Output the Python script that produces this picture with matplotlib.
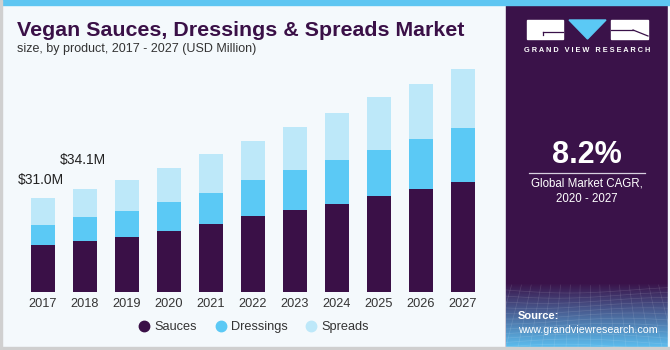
import matplotlib.pyplot as plt
import numpy as np
from matplotlib.patches import Rectangle, Polygon
from matplotlib.lines import Line2D

# data (USD Million)
years = ['2017', '2018', '2019', '2020', '2021', '2022', '2023', '2024', '2025', '2026', '2027']
sauces = [15.5, 16.7, 18.0, 20.2, 22.4, 25.1, 27.1, 29.0, 31.6, 33.9, 36.4]
dressings = [6.6, 7.9, 8.8, 9.6, 10.3, 11.9, 13.2, 14.6, 15.4, 16.7, 17.7]
spreads = [8.9, 9.5, 10.0, 11.2, 12.7, 13.0, 14.2, 15.5, 17.3, 18.1, 19.4]
labels = {0: '$31.0M', 1: '$34.1M'}
label_gap = {0: 6.0, 1: 9.5}

C_SAUCE = '#3a1047'
C_DRESS = '#5bc9f5'
C_SPREAD = '#bde8f9'
BG = '#f4f9fc'
PANEL = '#3a1249'

plt.rcParams['font.family'] = ['Liberation Sans', 'DejaVu Sans']

W, H = 670, 350
fig = plt.figure(figsize=(6.7, 3.5), dpi=100)
fig.patch.set_facecolor(BG)

# background / decoration axes in pixel coordinates
bg = fig.add_axes([0, 0, 1, 1], zorder=0)
bg.set_xlim(0, W)
bg.set_ylim(H, 0)
bg.axis('off')

bg.add_patch(Rectangle((0, 0), W, H, color=BG, zorder=0))
bg.add_patch(Rectangle((506, 0), 162, 347, color=PANEL, zorder=1))

# gradient at the bottom of the side panel
grad = np.linspace(0, 1, 100)[:, None]
top = np.array([0x3a, 0x12, 0x49]) / 255
bot = np.array([0x5c, 0xbd, 0xee]) / 255
img = (top[None, None, :] * (1 - grad[..., None]) + bot[None, None, :] * grad[..., None])
img = np.repeat(img, 2, axis=1)
bg.imshow(img, extent=(506, 668, 347, 283), aspect='auto', zorder=2,
          interpolation='bilinear')

# faint perspective grid
for k in range(12):
    yy = 290 + k * 5.2
    xs = np.linspace(506, 668, 40)
    bg.plot(xs, yy + 3 * np.sin((xs - 506) / 40 + k * 0.3), color='white',
            lw=0.5, alpha=0.12, zorder=3)
for k in range(20):
    x0 = 500 + k * 9
    bg.plot([x0 + (k - 10) * 0.8, x0 + (k - 10) * 3], [285, 347], color='white',
            lw=0.5, alpha=0.12, zorder=3)
bg.add_patch(Rectangle((668, 0), 2, 350, color=BG, zorder=4))

bg.add_patch(Rectangle((0, 0), W, 5, color='#5ec6f2', zorder=5))
bg.add_patch(Rectangle((0, 347), W, 3, color='#cfcfcf', zorder=5))
bg.add_patch(Rectangle((0, 0), 1.5, 350, color='#d0d0d0', zorder=5))

# logo
bg.add_patch(Rectangle((527, 20), 36, 19, color='white', zorder=5))
bg.add_patch(Rectangle((611, 20), 37, 19, color='white', zorder=5))
bg.add_patch(Polygon([(569, 20), (606, 20), (587.5, 39)], color=C_DRESS, zorder=5))
bg.plot([543, 563], [32, 32], color=PANEL, lw=0.9, zorder=6)
bg.plot([543, 543], [32, 35], color=PANEL, lw=0.9, zorder=6)
bg.plot([633, 648], [30, 36], color=PANEL, lw=0.9, zorder=6)
bg.plot([611, 633], [30, 30], color=PANEL, lw=0.9, zorder=6)
bg.text(587.5, 51, 'G R A N D   V I E W   R E S E A R C H', color='white',
        fontsize=5.3, fontweight='bold', ha='center', va='center', zorder=6)

# CAGR block
bg.text(587, 155, '8.2%', color='white', fontsize=22, fontweight='bold',
        ha='center', va='center', zorder=6)
bg.plot([529, 645], [172.7, 172.7], color='#d8d0e0', lw=0.9, zorder=6)
bg.text(587, 184, 'Global Market CAGR,', color='white', fontsize=8.3,
        ha='center', va='center', zorder=6)
bg.text(587, 199, '2020 - 2027', color='white', fontsize=8.3,
        ha='center', va='center', zorder=6)
bg.text(518, 316, 'Source:', color='white', fontsize=8, fontweight='bold',
        ha='left', va='center', zorder=6)
bg.text(518, 330, 'www.grandviewresearch.com', color='white', fontsize=7.7,
        ha='left', va='center', zorder=6)

# titles
bg.text(17, 30, 'Vegan Sauces, Dressings & Spreads Market', color='#3a1047',
        fontsize=15.4, fontweight='bold', ha='left', va='center', zorder=6)
bg.text(17, 49, 'size, by product, 2017 - 2027 (USD Million)', color='#333333',
        fontsize=9, ha='left', va='center', zorder=6)

# chart axes
base_px, top_px = 292, 60
ax = fig.add_axes([22 / W, (H - base_px) / H, 462 / W, (base_px - top_px) / H], zorder=2)
ax.patch.set_alpha(0)
scale = 3.03
ax.set_ylim(0, (base_px - top_px) / scale)
ax.set_xlim(-0.5, len(years) - 0.5)

x = np.arange(len(years))
s = np.array(sauces)
d = np.array(dressings)
p = np.array(spreads)
bw = 0.57
ax.bar(x, s, bw, color=C_SAUCE, label='Sauces')
ax.bar(x, d, bw, bottom=s, color=C_DRESS, label='Dressings')
ax.bar(x, p, bw, bottom=s + d, color=C_SPREAD, label='Spreads')

tot = s + d + p
for i, t in labels.items():
    ax.text(x[i] - 0.05, tot[i] + label_gap[i], t, ha='center', va='center',
            fontsize=10, color='#222222')

ax.set_xticks(x)
ax.set_xticklabels(years, fontsize=9.2, color='#333333')
ax.tick_params(axis='x', length=0, pad=4)
ax.set_yticks([])
for sp in ax.spines.values():
    sp.set_visible(False)

handles = [Line2D([], [], marker='o', ls='', markersize=7.5, color=c)
           for c in (C_SAUCE, C_DRESS, C_SPREAD)]
fig.legend(handles, ['Sauces', 'Dressings', 'Spreads'], loc='center',
           bbox_to_anchor=(253 / W, 1 - 327 / H), ncol=3, frameon=False,
           fontsize=9.2, handletextpad=0.2, columnspacing=1.25, handlelength=1.2,
           labelcolor='#333333')

fig.savefig('out.png', dpi=100, facecolor=BG)
